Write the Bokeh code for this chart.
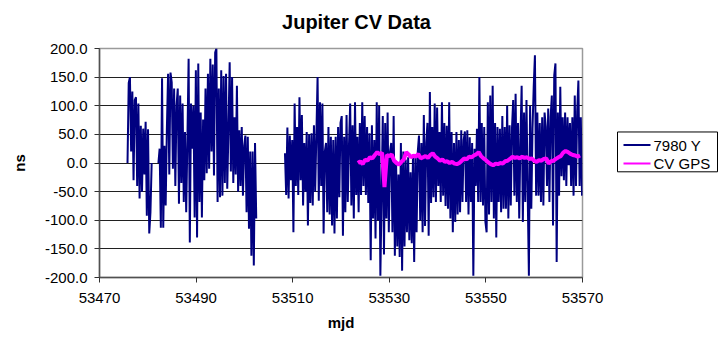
import numpy as np
from bokeh.plotting import figure
from bokeh.layouts import row, column
from bokeh.core.properties import value
from bokeh.models import (ColumnDataSource, FixedTicker, NumeralTickFormatter, Range1d)
from bokeh.embed import file_html
from bokeh.resources import INLINE

# ---------------- data ----------------
title_text = "Jupiter CV Data"
x_label = "mjd"
y_label = "ns"
x_ticks = [53470, 53490, 53510, 53530, 53550, 53570]
y_ticks = [-200, -150, -100, -50, 0, 50, 100, 150, 200]
series_names = ["7980 Y", "CV GPS"]
series_colors = ["#000080", "#FF00FF"]

sample_step = 0.25  # days between 7980 Y samples

seg1_start = 53475.8
seg1_vals = [0, 140, 150, 20, 125, -30, 110, 115, -40, 104, -62, 65, -50, 60,
             -20, 72, -92, 59, -123, -86, 0]

seg2_start = 53482.2
seg2_vals = [0, 25, -113, 148, -113, 30, -74, 60, 156, -20, 158, 141, -10, 130,
             -40, 100, 130, -71, 118, -35, 104, -68, 54, -86, 40, 182, -139, 104,
             25, 100, -95, 162, -130, 174, -68, 88, -95, 76, -30, 130, -18, 156,
             -10, 182, 20, 172, -22, 193, 200, -68, 130, -60, 162, -57, 152, -35,
             156, -45, 60, 176, -15, 150, -35, 80, -20, 135, -50, 57, -40, 63, -57,
             30, 48, -86, 46, -115, 20, -162, 20, -179, 35, -97]

seg3_start = 53508.4
seg3_vals = [17, -56, 62, -62, 48, -30, 40, -121, 104, -40, 63, -56, 115, -30, 84,
             -74, 35, -50, 54, -109, 50, -70, 52, -74, 66, -50, 48, 150, -66, 106,
             -40, 104, -123, 20, 35, -86, 63, -90, 46, -109, 40, -123, 46, -97, 63,
             -60, 70, 82, -127, 46, -86, 84, -68, 30, 104, -74, 66, -97, 106, -56,
             46, -86, 70, -56, 106, -40, 82, -56, 63, -70, 52, -170, 66, -97, 40,
             -132, 106, -100, 100, -197, -60, 82, -160, 70, -97, 88, -121, 20, 35,
             -121, 82, -162, 4, -146, -20, -164, 35, -188, 20, -146, 6, -121, 10,
             -135, -16, -140, 10, -173, 15, -121, 20, 48, -100, 35, -121, 84, -110,
             35, 70, -127, 124, -70, 63, -60, 104, -68, 97, -40, 54, -68, 106, -57,
             70, -75, 65, -80, 106, -97, 54, -121, 35, -103, 54, -90, 40, -86, 57,
             -68, 40, 55, -68, 57, -90, 45, -68, 35, -197, 25, -40, 60, -68, 150,
             -68, 70, -74, 63, -103, -121, 106, -90, 118, -68, 135, -97, 70, -130,
             63, -68, 60, -86, 82, -80, 63, -80, 100, -97, 66, -74, 60, 110, -57,
             121, -68, 70, -97, 40, 135, -103, 88, -68, 110, -50, -197, 100, -80,
             60, 133, 188, -57, 88, -57, 70, -68, 80, -74, 88, 63, -40, 95, -68, 80,
             118, -109, 153, 174, -173, 88, -57, 133, -23, 80, -30, 88, -40, 80, -4,
             70, -40, 80, -57, 118, -40, 90, 144, -40, 80, -57]

gps_step = 0.5
gps_start = 53523.5
gps_vals = [0, 3, -2, 6, 4, 10, 8, 14, 19, 15, 18, -42, 14, 12, 15, 4, 0, -3, 2, 6,
            19, 15, 10, 13, 11, 16, 8, 10, 12, 9, 14, 17, 11, 8, 4, 6, 2, 3, 0, 2,
            -1, -2, 0, 4, 8, 6, 11, 10, 13, 15, 19, 12, 8, 5, 1, -2, -4, -1, -2, 0,
            -1, 3, 4, 7, 11, 9, 10, 8, 11, 9, 10, 7, 8, 4, 2, 5, 4, 7, 8, -1, 3, 4,
            7, 10, 12, 18, 21, 19, 16, 14, 13, 11, 13]

# ---------------- build sources ----------------
def seg_x(start, vals, step):
    return list(start + step * np.arange(len(vals)))

y_x, y_v = [], []
for st, vs in [(seg1_start, seg1_vals), (seg2_start, seg2_vals), (seg3_start, seg3_vals)]:
    if y_x:
        y_x.append(np.nan)
        y_v.append(np.nan)
    y_x += seg_x(st, vs, sample_step)
    y_v += list(vs)

src_y = ColumnDataSource(dict(x=y_x, y=y_v))
src_g = ColumnDataSource(dict(x=seg_x(gps_start, gps_vals, gps_step), y=gps_vals))

FONT = "Liberation Sans"
W = 725
H = 335
T = 36            # height of the title strip
W_MAIN = 612
W_LEG = W - W_MAIN
H_MAIN = H - T

def bare(width, height, xr, yr):
    f = figure(width=width, height=height, output_backend="svg", toolbar_location=None,
               title=None, x_range=xr, y_range=yr,
               min_border_left=0, min_border_right=0, min_border_top=0,
               min_border_bottom=0, background_fill_color="white",
               border_fill_color="white", outline_line_color=None)
    f.axis.visible = False
    f.grid.visible = False
    return f

# ---------------- title strip ----------------
tf = bare(W, T, Range1d(0, W), Range1d(T, 0))
tf.text(x=[356], y=[21], text=[title_text], text_font=value(FONT),
        text_font_size="20px", text_font_style="bold", text_align="center",
        text_baseline="middle", text_color="black")

# ---------------- main chart ----------------
p = figure(width=W_MAIN, height=H_MAIN, output_backend="svg", toolbar_location=None,
           title=None, x_range=Range1d(53470, 53570), y_range=Range1d(-200, 200),
           min_border_left=99, min_border_right=30, min_border_top=48 - T,
           min_border_bottom=58, background_fill_color="white",
           border_fill_color="white")

p.outline_line_color = "#9a9a9a"
p.outline_line_width = 1.5

p.line("x", "y", source=src_y, line_color=series_colors[0], line_width=2.0)
p.line("x", "y", source=src_g, line_color=series_colors[1], line_width=4)

p.xaxis.ticker = FixedTicker(ticks=x_ticks)
p.yaxis.ticker = FixedTicker(ticks=y_ticks)
p.xaxis.formatter = NumeralTickFormatter(format="0")
p.yaxis.formatter = NumeralTickFormatter(format="0.0")
for ax in (p.xaxis, p.yaxis):
    ax.axis_line_color = "#505050"
    ax.axis_line_width = 1.5
    ax.major_tick_line_color = "#303030"
    ax.major_tick_in = 0
    ax.major_tick_out = 5
    ax.minor_tick_line_color = None
    ax.major_label_text_font = FONT
    ax.major_label_text_font_size = "15px"
    ax.major_label_text_color = "black"
    ax.axis_label_text_font = FONT
    ax.axis_label_text_font_size = "15px"
    ax.axis_label_text_font_style = "bold"
    ax.axis_label_text_color = "black"
p.xaxis.axis_label = x_label
p.yaxis.axis_label = y_label
p.xaxis.major_label_standoff = 10
p.yaxis.major_label_standoff = 7
p.xaxis.axis_label_standoff = 8
p.yaxis.axis_label_standoff = 14

p.xgrid.grid_line_color = None
p.ygrid.grid_line_color = "#202020"
p.ygrid.grid_line_width = 1

# ---------------- legend panel (page-like pixel coordinates, y downwards) ----------------
pl = bare(W_LEG, H_MAIN, Range1d(W_MAIN, W), Range1d(H, T))

box_l, box_r, box_t, box_b = 617, 717, 145, 197
row_y = [162, 186]
pl.quad(left=[box_l], right=[box_r], top=[box_t], bottom=[box_b],
        fill_color="white", line_color="black", line_width=1)
leg_src = ColumnDataSource(dict(x0=[623, 623], x1=[650, 650], y=row_y,
                                tx=[653, 653], name=series_names, color=series_colors))
pl.segment(x0="x0", y0="y", x1="x1", y1="y", line_color="color", line_width=2,
           source=leg_src)
pl.text(x="tx", y="y", text="name", source=leg_src, text_font=value(FONT),
        text_font_size="15px", text_baseline="middle", text_align="left",
        text_color="black")

layout = column(tf, row(p, pl, spacing=0), spacing=0)
open("out.html", "w").write(file_html(layout, INLINE))
